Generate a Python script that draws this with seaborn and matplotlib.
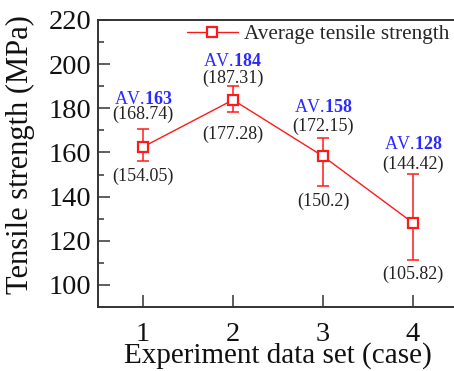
import numpy as np
import pandas as pd
import matplotlib
matplotlib.use("Agg")
import matplotlib.pyplot as plt
from matplotlib.ticker import MultipleLocator
import seaborn as sns

# values
cases = [1, 2, 3, 4]
means = [162.5, 183.8, 158.3, 128.1]
err_low = [156.3, 178.4, 145.0, 111.4]
err_high = [170.7, 189.9, 166.6, 150.3]
av_labels = ["163", "184", "158", "128"]
max_labels = ["(168.74)", "(187.31)", "(172.15)", "(144.42)"]
min_labels = ["(154.05)", "(177.28)", "(150.2)", "(105.82)"]

# label offsets (pixels) above / below the error bar ends
max_off = [14, 8, 12, 10]
av_off = [29, 25, 30, 29]
min_off = [16, 23, 16, 15]

df = pd.DataFrame({"case": cases, "strength": means})

sns.set_style("ticks")
plt.rcParams["font.family"] = ["Liberation Serif", "DejaVu Serif"]
plt.rcParams["mathtext.fontset"] = "custom"
plt.rcParams["mathtext.rm"] = "Liberation Serif"
plt.rcParams["mathtext.bf"] = "Liberation Serif:bold"

fig = plt.figure(figsize=(4.54, 3.71), dpi=100)
ax = fig.add_axes([98 / 454, 64 / 371, 360 / 454, 287 / 371])

red = "#ff1a1a"
sns.lineplot(data=df, x="case", y="strength", ax=ax, color=red, lw=1.0,
             marker="s", markersize=7.5, markerfacecolor="white",
             markeredgecolor=red, markeredgewidth=1.6,
             label="Average tensile strength", zorder=3)

yerr = [np.array(means) - np.array(err_low), np.array(err_high) - np.array(means)]
ax.errorbar(cases, means, yerr=yerr, fmt="none", ecolor=red, elinewidth=1.1,
            capsize=4, capthick=1.1, zorder=2)

for i, x in enumerate(cases):
    ax.annotate(max_labels[i], (x, err_high[i]), xytext=(0, max_off[i]),
                textcoords="offset pixels", ha="center", va="center",
                fontsize=13, color="#222222")
    ax.annotate("AV.$\\mathbf{" + av_labels[i] + "}$", (x, err_high[i]),
                xytext=(0, av_off[i]), textcoords="offset pixels",
                ha="center", va="center", fontsize=13, color="#2a2aff")
    ax.annotate(min_labels[i], (x, err_low[i]), xytext=(0, -min_off[i]),
                textcoords="offset pixels", ha="center", va="center",
                fontsize=13, color="#222222")

ax.set_xlim(0.5, 4.5)
ax.set_xticks(cases)
ax.yaxis.set_major_locator(MultipleLocator(20))
ax.yaxis.set_minor_locator(MultipleLocator(10))
ax.set_ylim(90, 220)

ax.tick_params(axis="both", which="major", direction="in", length=8.5, width=1.1,
               labelsize=20.5, color="#333333", labelcolor="#111111")
ax.tick_params(axis="y", which="major", pad=5)
ax.tick_params(axis="x", which="major", pad=11)
ax.tick_params(axis="y", which="minor", direction="in", length=4.5, width=1.1,
               color="#333333", left=True)

for s in ax.spines.values():
    s.set_visible(True)
    s.set_linewidth(1.4)
    s.set_color("#333333")

ax.set_xlabel("Experiment data set (case)", fontsize=21, labelpad=-3.5, color="#111111")
ax.set_ylabel("Tensile strength (MPa)", fontsize=22, color="#111111")
ax.yaxis.set_label_coords(-0.175, 0.53)

ax.legend(loc="upper right", frameon=False, fontsize=15.3,
          handlelength=2.4, borderaxespad=0.0, handletextpad=0.3,
          bbox_to_anchor=(1.0, 1.015))

fig.savefig("out.png", dpi=100)
